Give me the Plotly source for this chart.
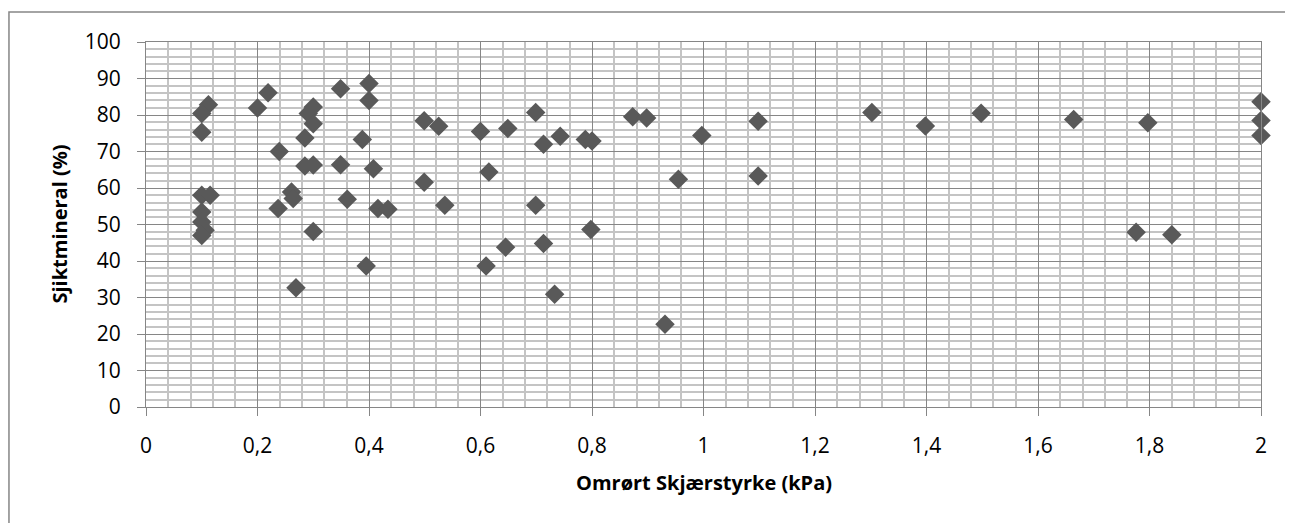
import plotly.graph_objects as go

# Omrørt skjærstyrke (kPa) vs sjiktmineral (%)
skjaerstyrke = [0.112, 0.100, 0.100, 0.100, 0.115, 0.100, 0.100, 0.106, 0.100,
                0.200, 0.219, 0.239, 0.237, 0.261, 0.264, 0.269, 0.285, 0.285,
                0.291, 0.300, 0.300, 0.300, 0.300,
                0.349, 0.400, 0.400, 0.388, 0.349, 0.408, 0.361, 0.416, 0.434, 0.395,
                0.499, 0.525, 0.499, 0.536, 0.600, 0.649, 0.615, 0.645, 0.610,
                0.699, 0.713, 0.743, 0.788, 0.800, 0.699, 0.798, 0.713, 0.733,
                0.873, 0.898, 0.997, 0.955, 0.931,
                1.098, 1.098, 1.302, 1.398, 1.498, 1.664, 1.797, 1.776, 1.840,
                2.0, 2.0, 2.0]
sjiktmineral = [82.8, 80.4, 75.3, 58.0, 58.0, 53.4, 50.7, 48.4, 47.0,
                81.9, 86.1, 70.0, 54.4, 58.9, 57.1, 32.7, 73.7, 66.0,
                80.4, 82.2, 77.6, 66.3, 48.1,
                87.2, 88.6, 84.0, 73.3, 66.4, 65.3, 56.9, 54.4, 54.2, 38.6,
                78.4, 76.9, 61.6, 55.3, 75.5, 76.3, 64.4, 43.8, 38.6,
                80.7, 72.0, 74.2, 73.3, 72.9, 55.3, 48.6, 44.8, 30.9,
                79.5, 79.2, 74.4, 62.4, 22.7,
                78.3, 63.3, 80.7, 77.0, 80.5, 78.8, 77.9, 47.9, 47.2,
                83.6, 78.5, 74.4]

x_title = "Omrørt Skjærstyrke (kPa)"
y_title = "Sjiktmineral (%)"

fnt = "Open Sans"
major = "#868686"
minor = "#c4c4c4"

fig = go.Figure()
fig.add_trace(go.Scatter(x=skjaerstyrke, y=sjiktmineral, mode="markers",
                         marker=dict(symbol="diamond", size=15, color="#595959",
                                     line=dict(width=0)),
                         cliponaxis=False, showlegend=False))

fig.update_xaxes(range=[0, 2], dtick=0.2, tick0=0,
                 showgrid=True, gridcolor=major, gridwidth=1,
                 minor=dict(dtick=0.04, showgrid=True, gridcolor=minor, gridwidth=2),
                 showline=True, linecolor=major, linewidth=1, mirror=True,
                 ticks="outside", ticklen=8, tickcolor=major,
                 ticklabelstandoff=12, zeroline=False,
                 tickfont=dict(family=fnt, size=21, color="black"))
fig.update_yaxes(range=[0, 100], dtick=10, tick0=0,
                 showgrid=True, gridcolor=major, gridwidth=1,
                 minor=dict(dtick=2, showgrid=True, gridcolor=minor, gridwidth=2),
                 showline=True, linecolor=major, linewidth=1, mirror=True,
                 ticks="outside", ticklen=8, tickcolor=major,
                 ticklabelstandoff=12, zeroline=False,
                 tickfont=dict(family=fnt, size=21, color="black"))

fig.add_annotation(text=x_title, xref="paper", yref="paper", x=0.5, y=-0.2055,
                   showarrow=False, xanchor="center", yanchor="middle",
                   font=dict(family=fnt, size=20, color="black", weight="bold"))
fig.add_annotation(text=y_title, xref="paper", yref="paper", x=-0.078, y=0.5,
                   showarrow=False, textangle=-90, xanchor="center", yanchor="middle",
                   font=dict(family=fnt, size=20, color="black", weight="bold"))

# chart border (right and bottom edges run off the picture)
fig.add_shape(type="rect", xref="paper", yref="paper",
              x0=-0.1229, x1=1.05, y0=-0.35, y1=1.0822,
              line=dict(color=major, width=1.5), layer="below")

# page body has an 8px margin, so the figure is shifted by 8px
fig.update_layout(width=1285, height=515,
                  margin=dict(l=138, r=32, t=34, b=116),
                  paper_bgcolor="white", plot_bgcolor="white",
                  separators=",.",
                  font=dict(family=fnt))

fig.write_html("out.html")
